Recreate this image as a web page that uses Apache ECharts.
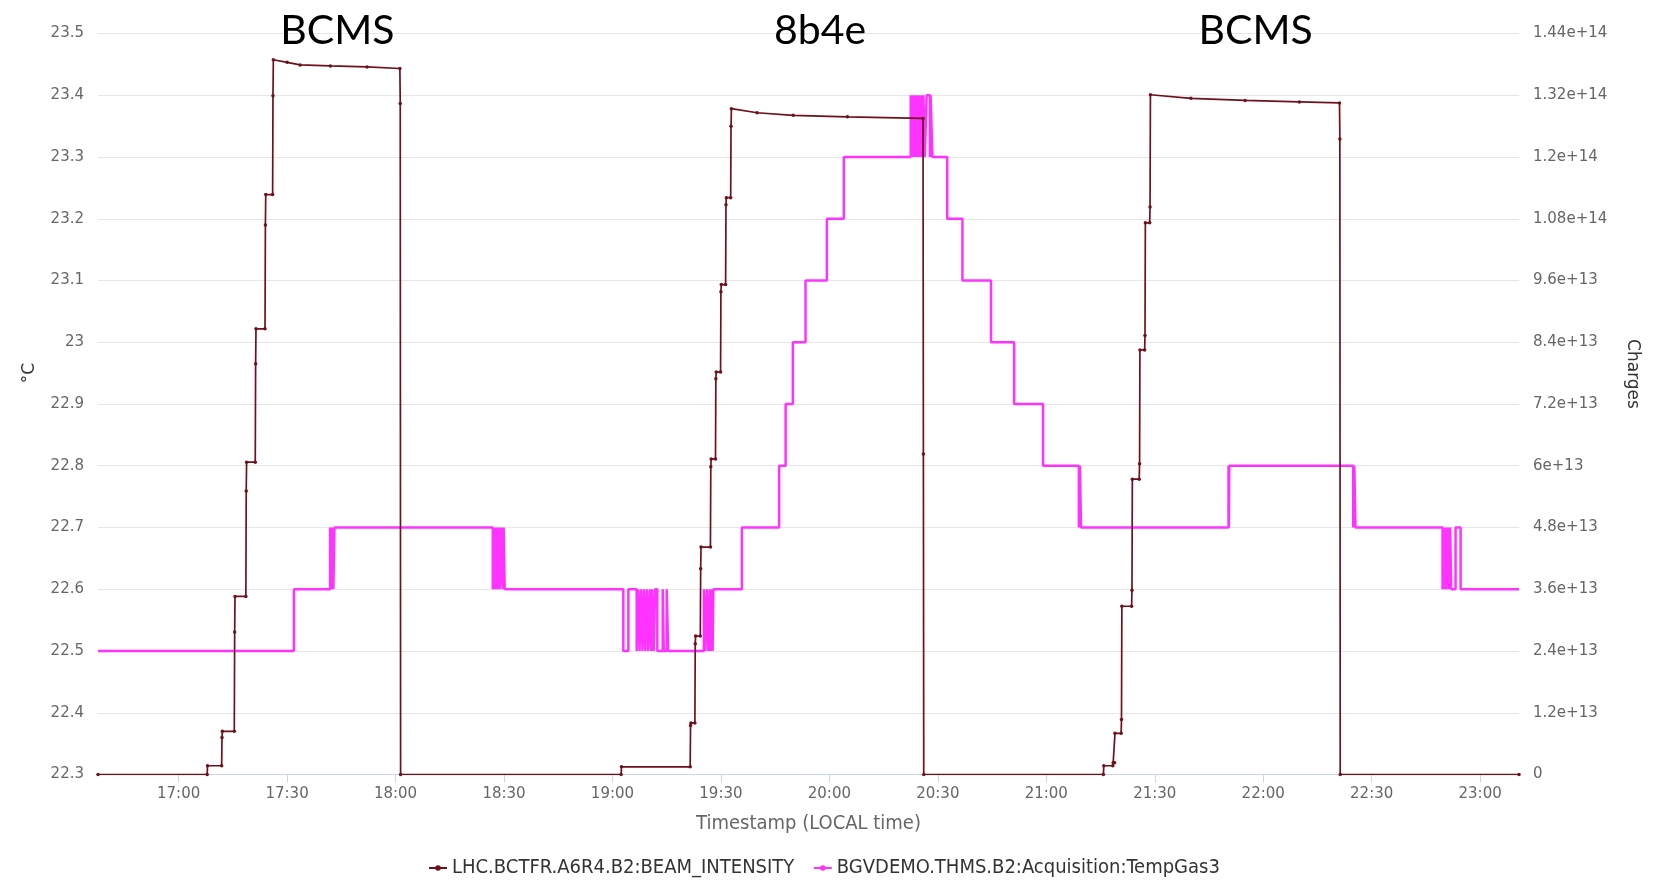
<!DOCTYPE html>
<html><head><meta charset="utf-8">
<script src="https://cdn.jsdelivr.net/npm/echarts@6/dist/echarts.min.js"></script>
<style>html,body{margin:0;padding:0;background:#fff}#c{width:1662px;height:880px}</style>
</head><body><div id="c"></div>
<script>
// ---------- data ----------
const beamName = 'LHC.BCTFR.A6R4.B2:BEAM_INTENSITY';
const tempName = 'BGVDEMO.THMS.B2:Acquisition:TempGas3';
// minutes after 17:00 local time
const beamMinutes = [
  -22.3, 7.9, 8.0, 11.9, 12.0, 12.1, 15.4, 15.5, 15.6, 18.6, 18.7, 18.8, 21.2, 21.3, 21.4, 23.9, 24.0, 24.1, 26.0, 26.1, 26.2,
  30.0, 33.6, 42.0, 52.1, 61.2, 61.3, 61.4,
  122.4, 122.5, 141.5, 141.6, 141.7, 142.8, 142.9, 143.0, 144.3, 144.4, 144.5, 147.1, 147.2, 147.3, 148.5, 148.6, 148.7,
  149.9, 150.0, 150.1, 151.3, 151.4, 151.5, 152.7, 152.8, 152.9, 160.0, 170.0, 185.0, 205.9, 206.0, 206.1,
  255.8, 255.9, 258.4, 258.5, 258.9, 259.0, 260.7, 260.8, 260.9, 263.6, 263.7, 263.8, 265.7, 265.8, 265.9, 267.2, 267.3, 267.4,
  268.6, 268.7, 268.8, 280.0, 295.0, 310.0, 321.1, 321.2, 321.3, 370.75
];
// beam intensity, units of 1e13 charges
const beamValues = [
  0, 0, 0.17, 0.17, 0.72, 0.84, 0.84, 2.77, 3.46, 3.46, 5.51, 6.07, 6.07, 7.98, 8.66, 8.66, 10.68, 11.27, 11.27, 13.19, 13.89,
  13.84, 13.79, 13.77, 13.75, 13.72, 13.04, 0,
  0, 0.15, 0.15, 0.95, 1.0, 1.0, 2.54, 2.69, 2.69, 4.0, 4.42, 4.42, 5.98, 6.13, 6.13, 7.69, 7.82,
  7.82, 9.38, 9.52, 9.52, 11.07, 11.21, 11.21, 12.6, 12.94, 12.86, 12.81, 12.78, 12.75, 6.23, 0,
  0, 0.17, 0.17, 0.23, 0.23, 0.8, 0.8, 1.07, 3.27, 3.27, 3.58, 5.74, 5.74, 6.04, 8.25, 8.25, 8.53, 10.72,
  10.72, 11.03, 13.21, 13.14, 13.1, 13.07, 13.05, 12.35, 0, 0
];
// temperature change points (value holds until next point)
const tempMinutes = [
  -22.3, 31.9, 41.9, 42.2, 42.5, 42.8, 43.1,
  86.9, 87.2, 87.5, 87.8, 88.1, 88.5, 88.8, 89.2, 89.6, 89.9, 90.2,
  123.0, 124.4, 126.7, 127.1, 127.5, 127.9, 128.3, 128.7, 129.1, 129.5, 129.9, 130.3, 130.7, 131.0, 131.4, 131.8, 132.4,
  133.9, 134.2, 135.0, 135.4, 145.3, 145.7, 146.1, 146.5, 146.9, 147.2, 147.5, 147.7, 147.9,
  155.8, 166.1, 167.9, 169.9, 173.4, 179.3, 184.0,
  202.5, 202.8, 203.1, 203.4, 203.7, 204.0, 204.3, 204.6, 204.9, 205.2, 205.5, 205.8, 206.0, 206.4, 206.9, 207.8, 208.0, 208.5,
  212.6, 216.8, 224.7, 231.1, 239.1, 249.0, 249.3, 249.6, 290.4, 290.5, 290.6, 324.9, 325.2, 325.5,
  349.6, 349.9, 350.2, 350.5, 350.8, 351.1, 351.4, 351.7, 352.0, 353.2, 354.6, 370.75
];
const tempValues = [
  22.5, 22.6, 22.7, 22.6, 22.7, 22.6, 22.7,
  22.6, 22.7, 22.6, 22.7, 22.6, 22.7, 22.6, 22.7, 22.6, 22.7, 22.6,
  22.5, 22.6, 22.5, 22.6, 22.5, 22.6, 22.5, 22.6, 22.5, 22.6, 22.5, 22.6, 22.5, 22.6, 22.5, 22.6, 22.5,
  22.6, 22.5, 22.6, 22.5, 22.6, 22.5, 22.6, 22.5, 22.6, 22.5, 22.6, 22.5, 22.6,
  22.7, 22.8, 22.9, 23.0, 23.1, 23.2, 23.3,
  23.4, 23.3, 23.4, 23.3, 23.4, 23.3, 23.4, 23.3, 23.4, 23.3, 23.4, 23.3, 23.4, 23.3, 23.4, 23.3, 23.4, 23.3,
  23.2, 23.1, 23.0, 22.9, 22.8, 22.7, 22.8, 22.7, 22.8, 22.7, 22.8, 22.7, 22.8, 22.7,
  22.6, 22.7, 22.6, 22.7, 22.6, 22.7, 22.6, 22.7, 22.6, 22.7, 22.6, 22.6
];
const xTickLabels = ['17:00', '17:30', '18:00', '18:30', '19:00', '19:30', '20:00', '20:30', '21:00', '21:30', '22:00', '22:30', '23:00'];
const tempAxis = { min: 22.3, max: 23.5, step: 0.1 };
const chargeAxis = { min: 0, max: 1.44e14, step: 1.2e13 };
const fillLabels = ['BCMS', '8b4e', 'BCMS'];
const fillLabelMinutes = [43.9, 177.4, 297.9];

// ---------- chart ----------
const clockMin = s => { const p = s.split(':'); return (+p[0] - 17) * 60 + (+p[1]); };
const xTicks = xTickLabels.map(clockMin);
const beamData = beamMinutes.map((m, i) => [m, beamValues[i] * 1e13]);
const tempData = tempMinutes.map((m, i) => [m, tempValues[i]]);

// condensed font for legend / axis title, falling back to DejaVu Sans
function hasFont(name) {
  const c = document.createElement('canvas').getContext('2d');
  const s = 'BGVDEMO Acquisition TempGas3';
  c.font = '40px monospace'; const a = c.measureText(s).width;
  c.font = '40px "' + name + '", monospace'; const b = c.measureText(s).width;
  return Math.abs(a - b) > 0.5;
}
const condensed = hasFont('DejaVu Sans Condensed');
const textFont = condensed ? '"DejaVu Sans Condensed"' : '"DejaVu Sans"';
const textSize = condensed ? 20 : 18;

const chart = echarts.init(document.getElementById('c'), null, { renderer: 'canvas' });
const tickFont = 'DejaVu Sans';
const option = {
  animation: false,
  backgroundColor: '#ffffff',
  grid: { left: 98, right: 143, top: 33.5, bottom: 105.5, containLabel: false, outerBoundsMode: 'none' },
  legend: {
    top: 853, left: 423,
    itemWidth: 18, itemHeight: 7, itemGap: 18.5,
    textStyle: { color: '#333', fontSize: textSize, fontFamily: textFont },
    data: [beamName, tempName]
  },
  xAxis: {
    type: 'value',
    min: beamMinutes[0], max: beamMinutes[beamMinutes.length - 1],
    name: 'Timestamp (LOCAL time)', nameLocation: 'middle', nameGap: 39,
    nameTextStyle: { color: '#666', fontSize: textSize, fontFamily: textFont },
    axisLine: { lineStyle: { color: '#ccd6eb', width: 1 } },
    axisTick: { show: true, length: 8, lineStyle: { color: '#ccd6eb' }, customValues: xTicks },
    axisLabel: {
      color: '#666', fontSize: 15, fontFamily: tickFont, margin: 12, customValues: xTicks,
      formatter: v => { const i = xTicks.indexOf(Math.round(v)); return i >= 0 ? xTickLabels[i] : ''; }
    },
    splitLine: { show: false }
  },
  yAxis: [
    {
      type: 'value', position: 'left',
      min: tempAxis.min, max: tempAxis.max, interval: tempAxis.step,
      axisLine: { show: false }, axisTick: { show: false },
      axisLabel: { color: '#666', fontSize: 15, fontFamily: tickFont, margin: 14 },
      splitLine: { lineStyle: { color: '#e6e6e6', width: 1 } }
    },
    {
      type: 'value', position: 'right',
      min: chargeAxis.min, max: chargeAxis.max, interval: chargeAxis.step,
      axisLine: { show: false }, axisTick: { show: false },
      axisLabel: {
        color: '#666', fontSize: 15, fontFamily: tickFont, margin: 14,
        formatter: v => v === 0 ? '0' : Number(v.toPrecision(6)).toExponential()
      },
      splitLine: { show: false }
    }
  ],
  series: [
    {
      name: beamName, type: 'line', yAxisIndex: 1, data: beamData,
      color: '#6e111c', showSymbol: true, showAllSymbol: true, symbol: 'circle', symbolSize: 3.5,
      lineStyle: { width: 1.7, color: '#6e111c' }, itemStyle: { color: '#6e111c' }, z: 3
    },
    {
      name: tempName, type: 'line', yAxisIndex: 0, data: tempData, step: 'end',
      color: '#ff33ff', showSymbol: false, symbol: 'circle', symbolSize: 4,
      lineStyle: { width: 2.5, color: '#ff33ff' }, itemStyle: { color: '#ff33ff' }, z: 2
    }
  ]
};
chart.setOption(option);

const graphics = fillLabels.map((txt, i) => {
  const x = chart.convertToPixel({ xAxisIndex: 0 }, fillLabelMinutes[i]);
  return { type: 'text', x: x, y: 31, style: { text: txt, fill: '#000', font: '41px Lato', textAlign: 'center', textVerticalAlign: 'middle' } };
});
graphics.push({ type: 'text', x: 30, y: 373, rotation: Math.PI / 2, style: { text: '°C', fill: '#333', font: '17px "DejaVu Sans"', textAlign: 'center', textVerticalAlign: 'middle' } });
graphics.push({ type: 'text', x: 1632, y: 374, rotation: -Math.PI / 2, style: { text: 'Charges', fill: '#333', font: '17px "DejaVu Sans"', textAlign: 'center', textVerticalAlign: 'middle' } });
chart.setOption({ graphic: graphics });
</script></body></html>
